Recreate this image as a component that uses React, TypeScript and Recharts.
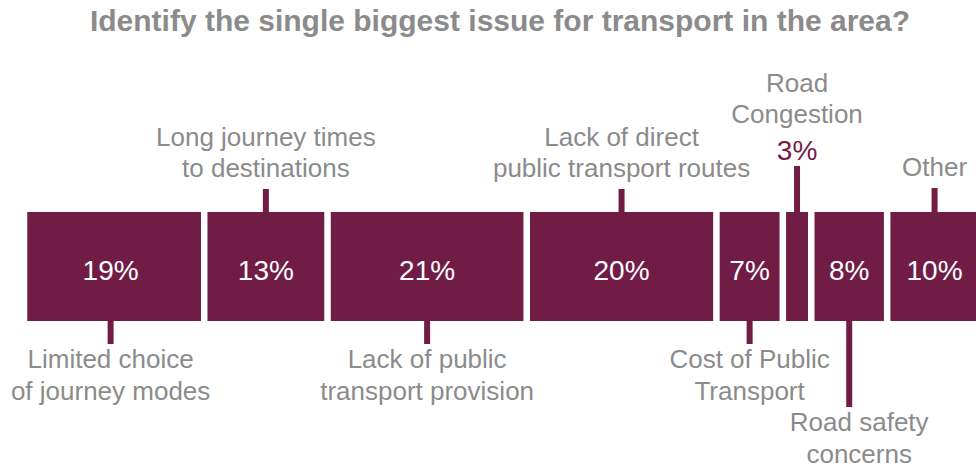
import { BarChart, Bar, XAxis, YAxis, LabelList } from "recharts"

const title = "Identify the single biggest issue for transport in the area?"

const categories = [
  ["Limited choice", "of journey modes"],
  ["Long journey times", "to destinations"],
  ["Lack of public", "transport provision"],
  ["Lack of direct", "public transport routes"],
  ["Cost of Public", "Transport"],
  ["Road", "Congestion"],
  ["Road safety", "concerns"],
  ["Other"],
]

const values = [19, 13, 21, 20, 7, 3, 8, 10]

// where each callout sits: side of the bar, leader length, nudges, percent outside
const callouts = [
  { side: "below", len: 23, shift: -3.5, dx: 0, outside: false },
  { side: "above", len: 23, shift: 0, dx: 0, outside: false },
  { side: "below", len: 23, shift: 0, dx: 0, outside: false },
  { side: "above", len: 23, shift: 0, dx: 0, outside: false },
  { side: "below", len: 23, shift: 0, dx: 0, outside: false },
  { side: "above", len: 46, shift: 0, dx: 0, outside: true },
  { side: "below", len: 86, shift: 0, dx: 10, outside: false },
  { side: "above", len: 24, shift: 0, dx: 0, outside: false },
]

const row: Record<string, number | string> = { name: "issues" }
values.forEach((v, i) => {
  row[`s${i}`] = v
})
const data = [row]

const maroon = "#711c45"
const grey = "#8b8b8b"
const font = "'Liberation Sans', Arial, sans-serif"

const SegmentShape = (props: any) => {
  const { x, y, width, height } = props
  return <rect x={x + 3.25} y={y} width={Math.max(width - 6.5, 0)} height={height} fill={maroon} />
}

function makeLabel(i: number) {
  return (props: any) => {
    const x = Number(props.x)
    const y = Number(props.y)
    const w = Number(props.width)
    const h = Number(props.height)
    const c = callouts[i]
    const cx = x + w / 2 + c.shift
    const lines = categories[i]
    const tx = cx + c.dx
    const out: any[] = []

    if (c.side === "below") {
      const y0 = y + h
      const y1 = y0 + c.len
      out.push(<rect key="l" x={cx - 3} y={y0} width={6} height={c.len} fill={maroon} />)
      lines.forEach((t, k) =>
        out.push(
          <text key={k} x={tx} y={y1 + 24 + k * 32} textAnchor="middle" fontSize={26} fill={grey} fontFamily={font}>
            {t}
          </text>
        )
      )
    } else {
      const y1 = y - c.len
      out.push(<rect key="l" x={cx - 3} y={y1} width={6} height={c.len} fill={maroon} />)
      let base = y1 - 12
      if (c.outside) {
        out.push(
          <text key="p" x={tx} y={y1 - 6} textAnchor="middle" fontSize={28} fill={maroon} fontFamily={font}>
            {values[i]}%
          </text>
        )
        base = y1 - 6 - 37
      }
      lines.forEach((t, k) =>
        out.push(
          <text
            key={k}
            x={tx}
            y={base - (lines.length - 1 - k) * 31}
            textAnchor="middle"
            fontSize={26}
            fill={grey}
            fontFamily={font}
          >
            {t}
          </text>
        )
      )
    }

    if (!c.outside) {
      out.push(
        <text key="v" x={cx} y={y + h / 2 + 13.5} textAnchor="middle" fontSize={28} fill="#ffffff" fontFamily={font}>
          {values[i]}%
        </text>
      )
    }
    return <g>{out}</g>
  }
}

export default function App() {
  return (
    <div
      style={{
        position: "absolute",
        left: 0,
        top: 0,
        width: 976,
        height: 471,
        overflow: "hidden",
        background: "#ffffff",
      }}
    >
      <div
        style={{
          position: "absolute",
          left: 0,
          top: 3,
          width: 1000,
          textAlign: "center",
          fontFamily: font,
          fontWeight: "bold",
          fontSize: 30,
          lineHeight: "36px",
          color: grey,
          whiteSpace: "nowrap",
        }}
      >
        {title}
      </div>
      <BarChart
        width={990}
        height={471}
        data={data}
        layout="vertical"
        margin={{ top: 212, right: 8, bottom: 150, left: 24 }}
        barCategoryGap={0}
      >
        <XAxis type="number" domain={[0, 101]} hide />
        <YAxis type="category" dataKey="name" hide />
        {values.map((_, i) => (
          <Bar key={i} dataKey={`s${i}`} stackId="a" shape={SegmentShape} isAnimationActive={false}>
            <LabelList dataKey={`s${i}`} content={makeLabel(i)} />
          </Bar>
        ))}
      </BarChart>
    </div>
  )
}
